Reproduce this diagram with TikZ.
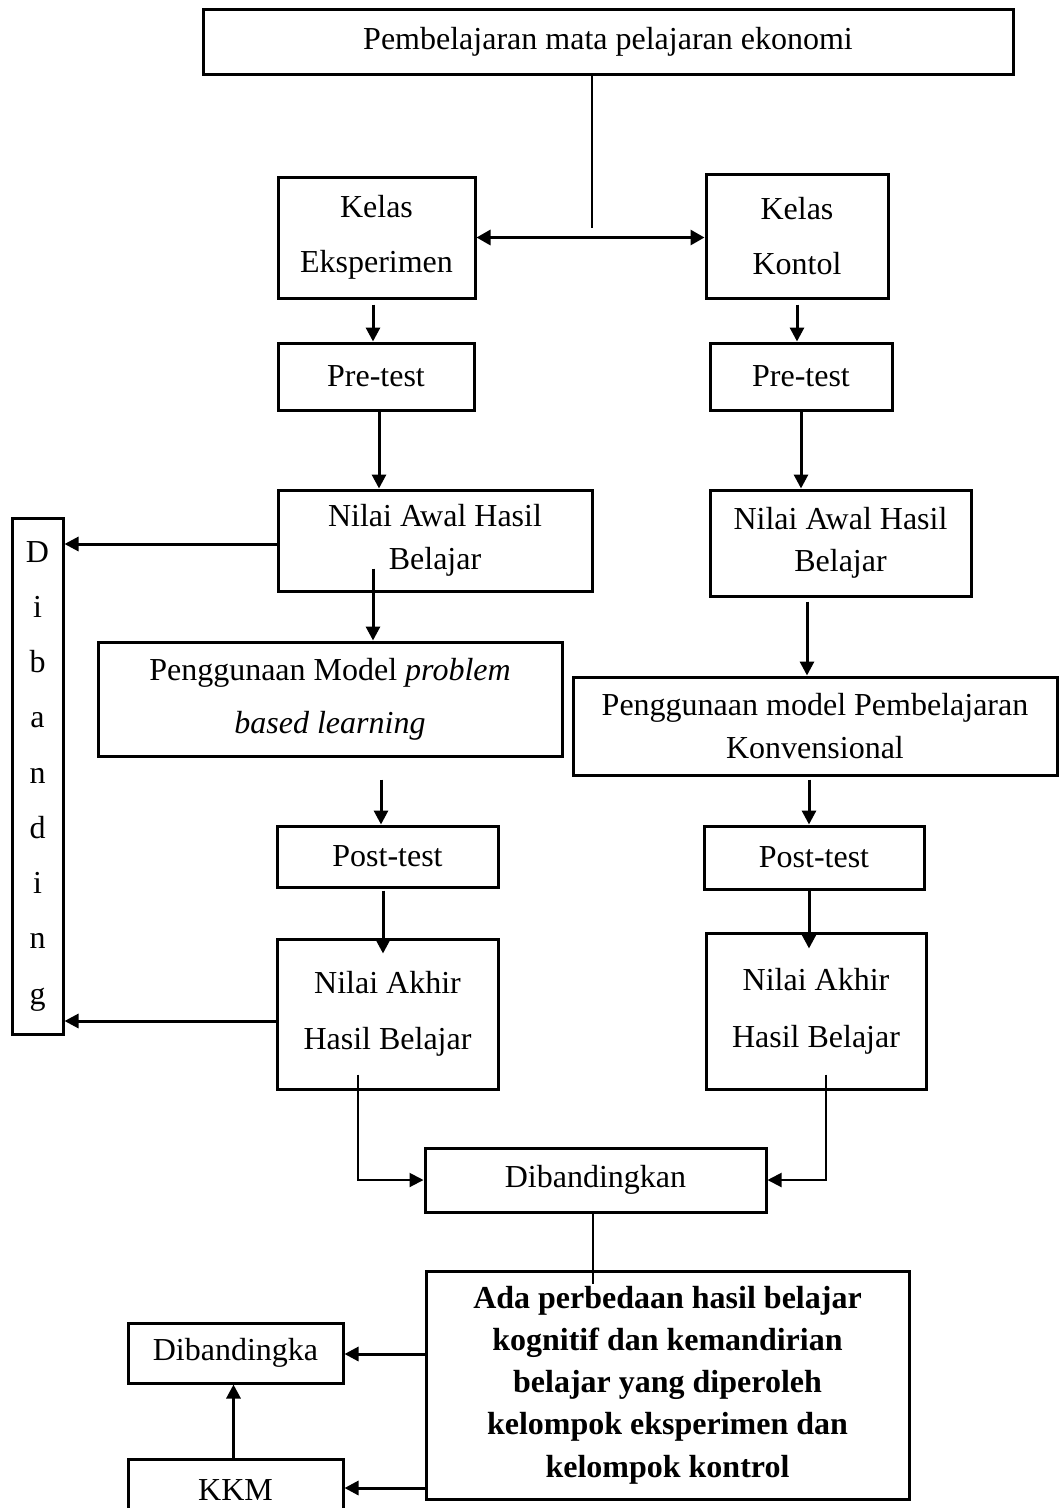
\documentclass[tikz,border=0pt]{standalone}
\usepackage{fontspec}
\setmainfont{Liberation Serif}
\usetikzlibrary{arrows.meta,calc}
\newcommand\bodyfont{\fontsize{32pt}{38pt}\selectfont}
\begin{document}
\begin{tikzpicture}[x=1pt,y=-1pt,
  box/.style={draw, line width=3pt, inner sep=0pt, align=center, font=\bodyfont},
  arr/.style={line width=3pt, -{Triangle[length=14pt,width=14pt]}},
  fineline/.style={line width=2pt},
  finearr/.style={line width=2pt, -{Triangle[length=14pt,width=14pt]}},
  dbl/.style={line width=3pt, {Triangle[length=14pt,width=15pt]}-{Triangle[length=14pt,width=15pt]}}]
\fill[white] (0,0) rectangle (1059,1508);
\useasboundingbox (0,0) rectangle (1059,1508);

% boxes
\node[box, minimum width=810pt, minimum height=65pt] (top) at (608,41.5) {Pembelajaran mata pelajaran ekonomi};
\node[box, minimum width=197pt, minimum height=121pt, font={\fontsize{32pt}{55pt}\selectfont}] (KE) at (376.5,237.5) {Kelas\\Eksperimen};
\node[box, minimum width=182pt, minimum height=124pt, font={\fontsize{32pt}{55pt}\selectfont}] (KK) at (797,236) {Kelas\\Kontol};
\node[box, minimum width=196pt, minimum height=67pt] (PreL) at (376,376.5) {Pre-test};
\node[box, minimum width=182pt, minimum height=67pt] (PreR) at (801,376.5) {Pre-test};
\node[box, minimum width=314pt, minimum height=101pt, font={\fontsize{32pt}{43pt}\selectfont}] (NAL) at (435,540.5) {Nilai Awal Hasil\\Belajar};
\node[box, minimum width=261pt, minimum height=106pt, font={\fontsize{32pt}{42pt}\selectfont}] (NAR) at (840.5,543) {Nilai Awal Hasil\\Belajar};
\node[box, minimum width=51pt, minimum height=516pt, font={\fontsize{32pt}{55.25pt}\selectfont}] (D) at (37.5,776) {D\\i\\b\\a\\n\\d\\i\\n\\g};
\node[box, minimum width=464pt, minimum height=114pt, font={\fontsize{32pt}{53pt}\selectfont}] (PML) at (330,699) {Penggunaan Model \textit{problem}\\\textit{based learning}};
\node[box, minimum width=484pt, minimum height=98pt, font={\fontsize{32pt}{43pt}\selectfont}] (PMR) at (815,726) {Penggunaan model Pembelajaran\\Konvensional};
\node[box, minimum width=221pt, minimum height=61pt] (PostL) at (387.5,856.5) {Post-test};
\node[box, minimum width=220pt, minimum height=63pt] (PostR) at (814,857.5) {Post-test};
\node[box, minimum width=221pt, minimum height=150pt, font={\fontsize{32pt}{56pt}\selectfont}] (NAkL) at (387.5,1014) {Nilai Akhir\\Hasil Belajar};
\node[box, minimum width=220pt, minimum height=156pt, font={\fontsize{32pt}{57pt}\selectfont}] (NAkR) at (816,1011) {Nilai Akhir\\Hasil Belajar};
\node[box, minimum width=341pt, minimum height=64pt] (Dib) at (595.5,1180) {Dibandingkan};
\node[box, minimum width=483pt, minimum height=228pt, font={\fontsize{32pt}{42.25pt}\selectfont\bfseries}] (res) at (667.5,1385) {Ada perbedaan hasil belajar\\kognitif dan kemandirian\\belajar yang diperoleh\\kelompok eksperimen dan\\kelompok kontrol};
\node[box, minimum width=215pt, minimum height=60pt] (Dka) at (235.5,1353) {Dibandingka};
\node[box, minimum width=215pt, minimum height=62pt] (KKM) at (235.5,1490) {KKM};

% helper coordinates
\coordinate (junc) at (592,228);
\coordinate (c373) at (373,0);
\coordinate (c379) at (379,0);
\coordinate (c381) at (381,0);
\coordinate (c383) at (383,0);
\coordinate (c358) at (358,0);
\coordinate (c593) at (593,0);
\coordinate (c807) at (807,0);
\coordinate (c809) at (809,0);
\coordinate (c826) at (826,0);
\coordinate (r544) at (0,544);
\coordinate (r1021) at (0,1021);
\coordinate (r1354) at (0,1354);
\coordinate (r1488) at (0,1488);

% connectors
\draw[fineline] (top.south -| junc) -- (junc);
\draw[dbl] (KE.east) -- (KE.east -| KK.west);
\draw[arr] ($(KE.south -| c373)+(0,5)$) -- (PreL.north -| c373);
\draw[arr] ($(KK.south)+(0,5)$) -- (KK.south |- PreR.north);
\draw[arr] (PreL.south -| c379) -- (NAL.north -| c379);
\draw[arr] (PreR.south) -- (PreR.south |- NAR.north);
\draw[arr] (NAL.west |- r544) -- (D.east |- r544);
\draw[arr] ($(NAL.south -| c373)+(0,-24)$) -- (PML.north -| c373);
\draw[arr] ($(NAR.south -| c807)+(0,4)$) -- (PMR.north -| c807);
\draw[arr] ($(PML.south -| c381)+(0,22)$) -- (PostL.north -| c381);
\draw[arr] ($(PostL.south -| c383)+(0,2)$) -- ($(NAkL.north -| c383)+(0,16)$);
\draw[arr] (NAkL.west |- r1021) -- (D.east |- r1021);
\draw[arr] ($(PMR.south -| c809)+(0,3)$) -- (PostR.north -| c809);
\draw[arr] (PostR.south -| c809) -- ($(NAkR.north -| c809)+(0,17)$);
\draw[finearr] ($(NAkL.south -| c358)+(0,-16)$) |- (Dib.west);
\draw[finearr] ($(NAkR.south -| c826)+(0,-16)$) |- (Dib.east);
\draw[fineline] (Dib.south -| c593) -- ($(res.north -| c593)+(0,14)$);
\draw[arr] (res.west |- r1354) -- (Dka.east |- r1354);
\draw[arr] (res.west |- r1488) -- (KKM.east |- r1488);
\draw[arr] (KKM.north -| Dka.south) ++(-2,0) -- ($(Dka.south)+(-2,0)$);
\end{tikzpicture}
\end{document}
